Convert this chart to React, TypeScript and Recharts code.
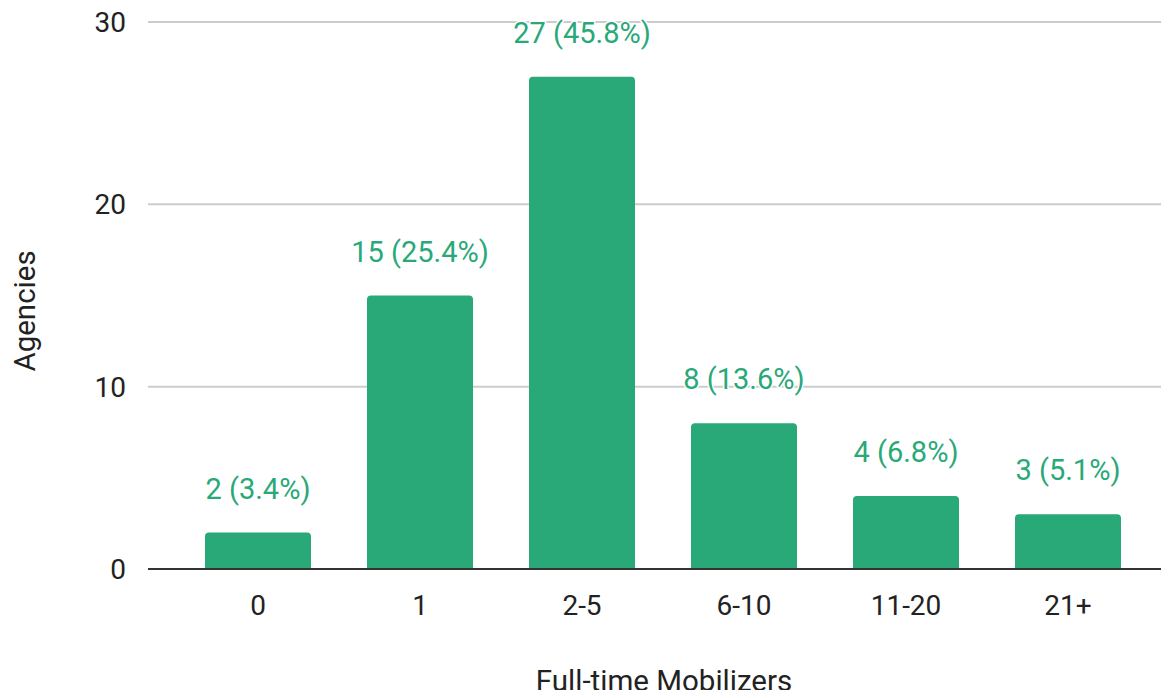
import { BarChart, Bar, XAxis, YAxis, CartesianGrid, LabelList } from 'recharts'

const categories = ['0', '1', '2-5', '6-10', '11-20', '21+']
const agencies = [2, 15, 27, 8, 4, 3]
const yTicks = [0, 10, 20, 30]

const GREEN = '#29A878'
const FONT = 'Roboto, Arial, sans-serif'

const total = agencies.reduce((a, b) => a + b, 0)
const data = categories.map((name, i) => ({
  name,
  value: agencies[i],
  label: `${agencies[i]} (${((agencies[i] / total) * 100).toFixed(1)}%)`,
}))

function TopLabel(props: any) {
  const { x, y, width, value } = props
  return (
    <text
      x={x + width / 2}
      y={y - 44}
      textAnchor="middle"
      dominantBaseline="central"
      fontFamily={FONT}
      fontSize={29}
      fill={GREEN}
      stroke="#fff"
      strokeWidth={3}
      paintOrder="stroke"
    >
      {value}
    </text>
  )
}

const titleStyle: React.CSSProperties = {
  position: 'absolute',
  fontFamily: FONT,
  fontSize: 29.5,
  color: '#222222',
  whiteSpace: 'nowrap',
  lineHeight: '32px',
}

export default function App() {
  return (
    <div style={{ margin: -8, background: '#fff', width: 1169, height: 698, position: 'relative' }}>
      <BarChart
        width={1169}
        height={698}
        data={data}
        margin={{ top: 22, right: 0, bottom: 0, left: 0 }}
      >
        <CartesianGrid vertical={false} stroke="#cccccc" strokeWidth={2} />
        <XAxis
          dataKey="name"
          height={129}
          padding={{ left: 29, right: 20 }}
          tickLine={false}
          axisLine={{ stroke: '#333333', strokeWidth: 2 }}
          tick={{ fontFamily: FONT, fontSize: 28, fill: '#222222' }}
          tickMargin={20}
        />
        <YAxis
          width={148}
          domain={[0, 30]}
          ticks={yTicks}
          tickLine={false}
          axisLine={false}
          tick={{ fontFamily: FONT, fontSize: 28, fill: '#222222' }}
          tickMargin={16}
        />
        <Bar dataKey="value" fill={GREEN} barSize={106} radius={[4, 4, 0, 0]} isAnimationActive={false}>
          <LabelList dataKey="label" content={TopLabel} />
        </Bar>
      </BarChart>
      <div style={{ ...titleStyle, left: 664, top: 681, transform: 'translate(-50%, -50%)' }}>
        Full-time Mobilizers
      </div>
      <div style={{ ...titleStyle, left: 25, top: 311, transform: 'translate(-50%, -50%) rotate(-90deg)' }}>
        Agencies
      </div>
    </div>
  )
}
